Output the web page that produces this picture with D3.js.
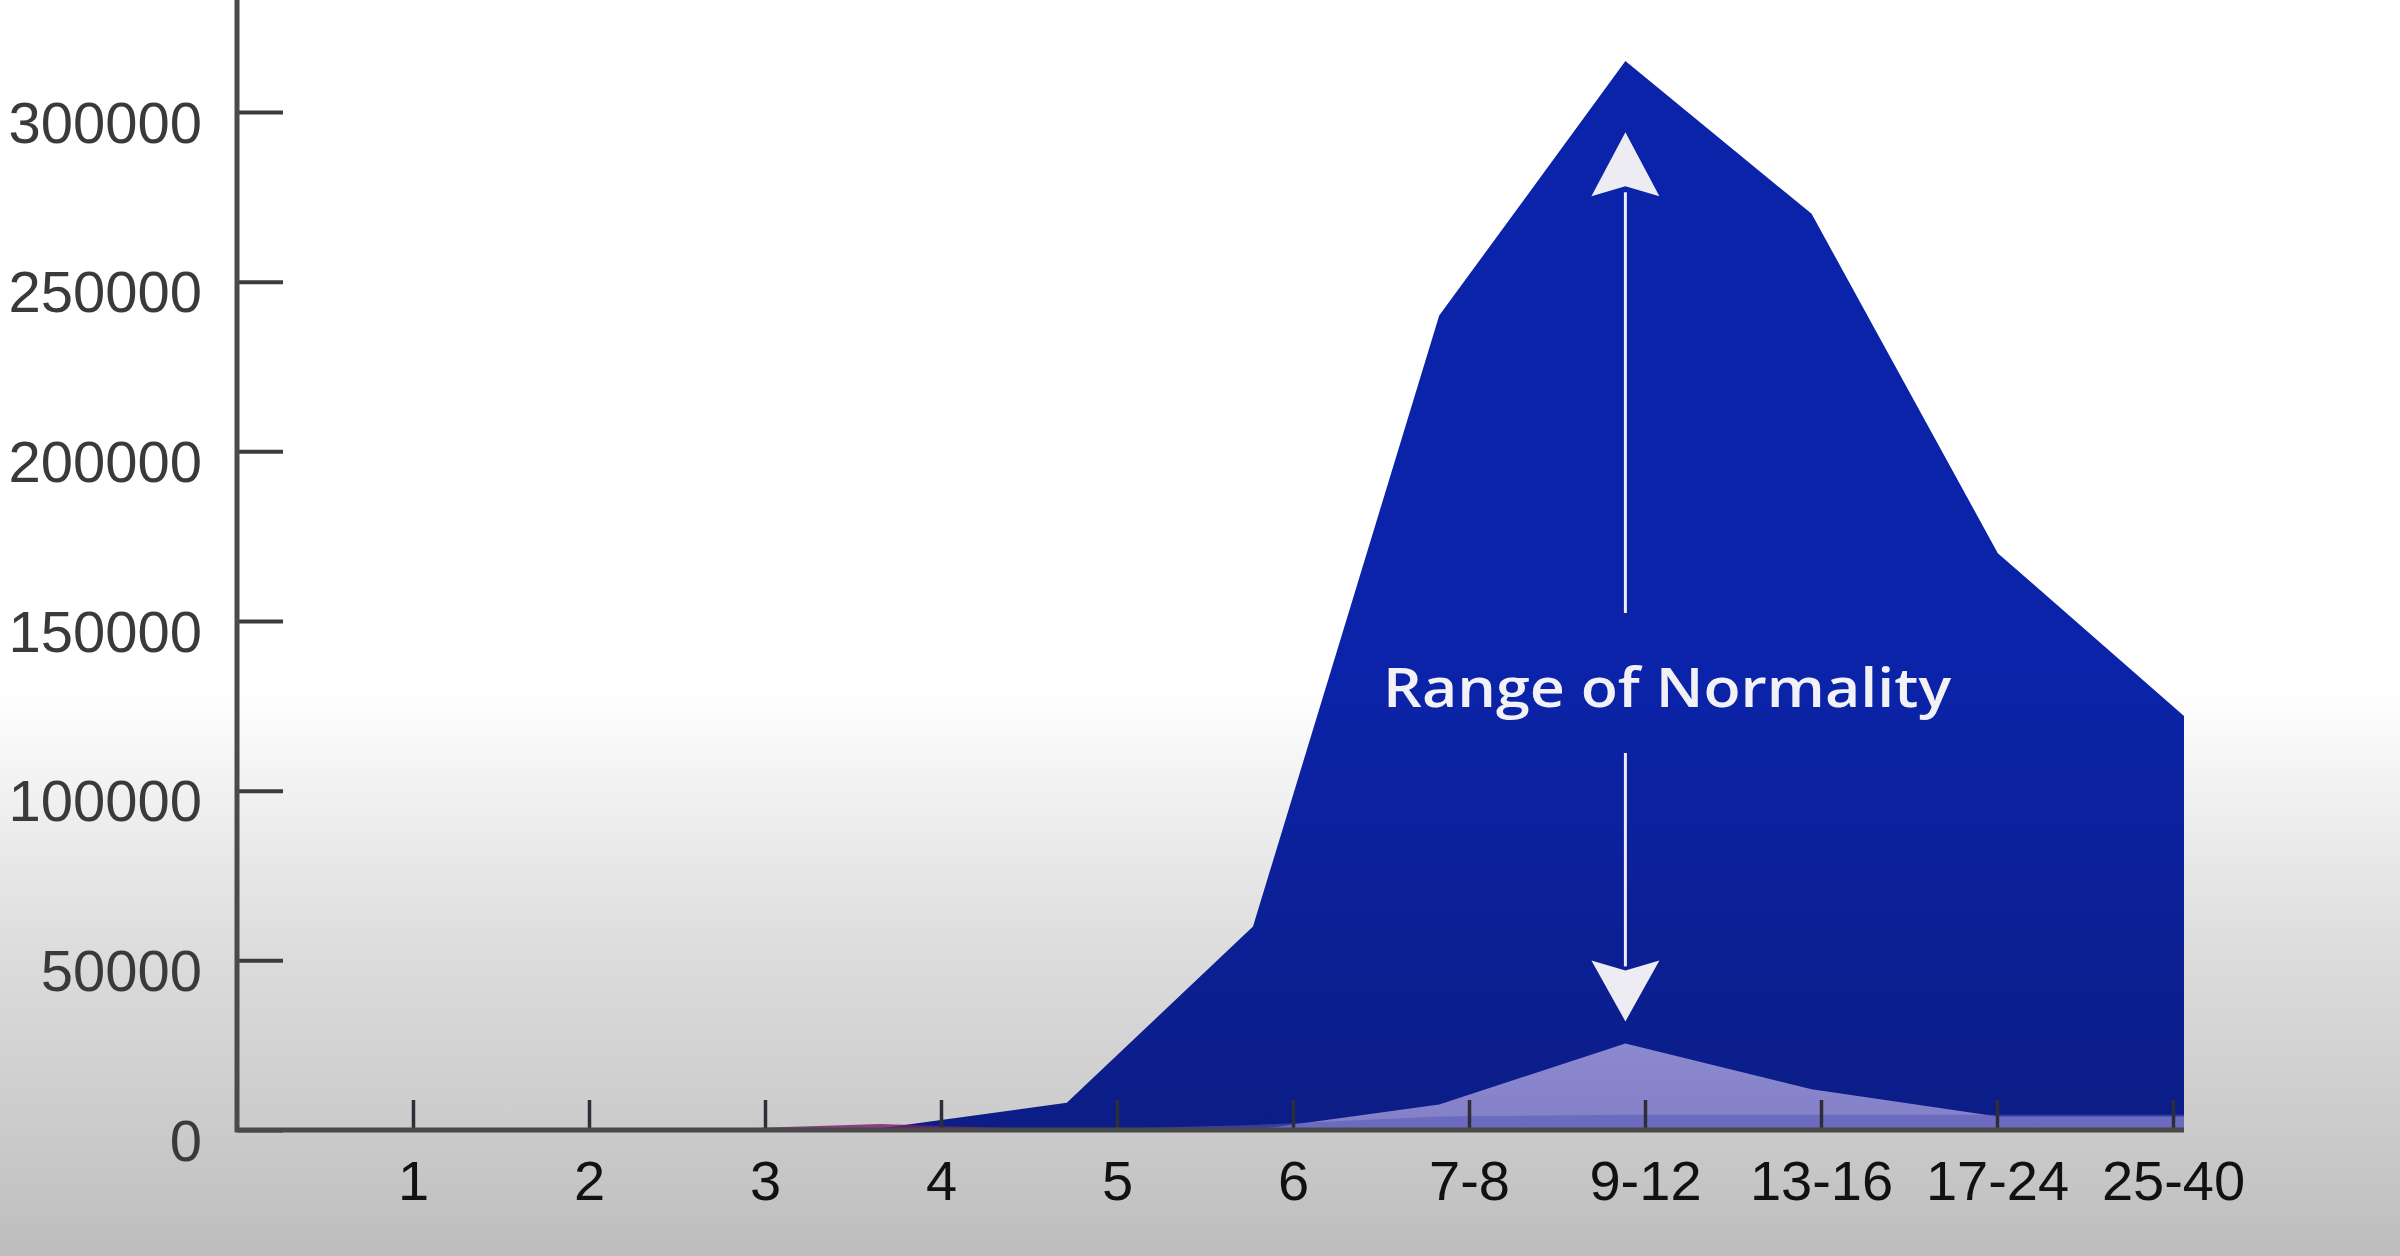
<!DOCTYPE html>
<html>
<head>
<meta charset="utf-8">
<script src="https://cdn.jsdelivr.net/npm/d3@7"></script>
<style>
  body { margin: 0; background: #fff; }
  svg { display: block; }
</style>
</head>
<body>
<div id="chart"></div>
<script>
// chart data
var categories = ["1", "2", "3", "4", "5", "6", "7-8", "9-12", "13-16", "17-24", "25-40"];
var upperValues = [0, 0, 0, 500, 8000, 60000, 240000, 315000, 270000, 170000, 122000];
var lowerValues = [0, 0, 0, 0, 0, 0, 7500, 25500, 12000, 4000, 4000];
var bandValues = [0, 0, 0, 0, 0, 1500, 4000, 4500, 4500, 4500, 4500];
var redValues = [0, 0, 0, 1800, 0, 0, 0, 0, 0, 0, 0];
var yTicks = [0, 50000, 100000, 150000, 200000, 250000, 300000];
var annotation = "Range of Normality";
var arrowTop = 294000;
var arrowBottom = 32000;

var w = 2400;
var h = 1256;
var left = 237;
var bottom = 1130;

var svg = d3.select("#chart")
    .append("svg")
    .attr("width", w)
    .attr("height", h);

var defs = svg.append("defs");

// grey fade at the bottom of the frame
var bg = defs.append("linearGradient")
    .attr("id", "bg")
    .attr("x1", 0).attr("y1", 0).attr("x2", 0).attr("y2", 1);
bg.append("stop").attr("offset", 0.55).attr("stop-color", "#ffffff");
bg.append("stop").attr("offset", 0.63).attr("stop-color", "#f1f1f1");
bg.append("stop").attr("offset", 0.76).attr("stop-color", "#dcdcdc");
bg.append("stop").attr("offset", 0.9).attr("stop-color", "#cbcbcb");
bg.append("stop").attr("offset", 1).attr("stop-color", "#bdbdbd");

var blue = defs.append("linearGradient")
    .attr("id", "blue")
    .attr("gradientUnits", "userSpaceOnUse")
    .attr("x1", 0).attr("y1", 0).attr("x2", 0).attr("y2", bottom);
blue.append("stop").attr("offset", 0.6).attr("stop-color", "#0b23a8");
blue.append("stop").attr("offset", 1).attr("stop-color", "#0c1d86");

var lilac = defs.append("linearGradient")
    .attr("id", "lilac")
    .attr("gradientUnits", "userSpaceOnUse")
    .attr("x1", 0).attr("y1", 1030).attr("x2", 0).attr("y2", bottom);
lilac.append("stop").attr("offset", 0).attr("stop-color", "#8d8ad2");
lilac.append("stop").attr("offset", 1).attr("stop-color", "#8480c8");

svg.append("rect")
    .attr("width", w)
    .attr("height", h)
    .attr("fill", "url(#bg)");

// scales
var yScale = d3.scaleLinear()
    .domain([0, 300000])
    .range([bottom, 112]);

var xScale = d3.scalePoint()
    .domain(categories)
    .range([413, 2173]);

// the filled shapes sit on their own, slightly wider grid
var xArea = d3.scaleLinear()
    .domain([0, categories.length - 1])
    .range([322, 2184]);

var area = d3.area()
    .x(function (d, i) { return xArea(i); })
    .y0(yScale(0))
    .y1(function (d) { return yScale(d); });

svg.append("path")
    .datum(upperValues)
    .attr("d", area)
    .attr("fill", "url(#blue)");

svg.append("path")
    .datum(lowerValues)
    .attr("d", area)
    .attr("fill", "url(#lilac)");

svg.append("path")
    .datum(bandValues)
    .attr("d", area)
    .attr("fill", "#5659b8")
    .attr("opacity", 0.55);

svg.append("path")
    .datum(redValues)
    .attr("d", area)
    .attr("fill", "#7a1b6e")
    .attr("opacity", 0.8);

// Y axis
var yAxis = d3.axisLeft(yScale)
    .tickValues(yTicks)
    .tickSizeInner(-46)
    .tickSizeOuter(0)
    .tickPadding(35)
    .tickFormat(d3.format("d"));

var gy = svg.append("g")
    .attr("transform", "translate(" + left + ",0)")
    .call(yAxis);
gy.select(".domain").remove();
gy.selectAll(".tick line")
    .attr("stroke", "#3c3c3c")
    .attr("stroke-width", 4);
gy.selectAll(".tick text")
    .attr("dy", "0.52em")
    .attr("fill", "#3a3a3a")
    .attr("font-family", "'Liberation Sans', Arial, sans-serif")
    .attr("font-size", "58px");

// X axis
var xAxis = d3.axisBottom(xScale)
    .tickSizeInner(-30)
    .tickSizeOuter(0)
    .tickPadding(30);

var gx = svg.append("g")
    .attr("transform", "translate(0," + bottom + ")")
    .call(xAxis);
gx.select(".domain").remove();
gx.selectAll(".tick line")
    .attr("stroke", "#2e2e3a")
    .attr("stroke-width", 3.5);
gx.selectAll(".tick text")
    .attr("fill", "#111")
    .attr("font-family", "'Liberation Sans', Arial, sans-serif")
    .attr("font-size", "56px");

// axis lines
svg.append("line")
    .attr("x1", left).attr("x2", left)
    .attr("y1", 0).attr("y2", bottom + 2)
    .attr("stroke", "#4a4a4a")
    .attr("stroke-width", 5);

svg.append("line")
    .attr("x1", left - 2).attr("x2", xArea(categories.length - 1))
    .attr("y1", bottom).attr("y2", bottom)
    .attr("stroke", "#4a4a4a")
    .attr("stroke-width", 5);

// annotation arrows at the peak
var ax = xArea(upperValues.indexOf(d3.max(upperValues)));
var textY = 707;
var arrowColor = "#ececf2";

var topTip = yScale(arrowTop);
var botTip = yScale(arrowBottom);

svg.append("line")
    .attr("x1", ax).attr("x2", ax)
    .attr("y1", topTip + 60).attr("y2", 613)
    .attr("stroke", arrowColor)
    .attr("stroke-width", 3);

svg.append("path")
    .attr("d", "M" + ax + "," + topTip +
        " L" + (ax + 34) + "," + (topTip + 64) +
        " L" + ax + "," + (topTip + 54) +
        " L" + (ax - 34) + "," + (topTip + 64) + " Z")
    .attr("fill", arrowColor);

svg.append("line")
    .attr("x1", ax).attr("x2", ax)
    .attr("y1", 753).attr("y2", botTip - 55)
    .attr("stroke", arrowColor)
    .attr("stroke-width", 3);

svg.append("path")
    .attr("d", "M" + ax + "," + botTip +
        " L" + (ax + 34) + "," + (botTip - 61) +
        " L" + ax + "," + (botTip - 51) +
        " L" + (ax - 34) + "," + (botTip - 61) + " Z")
    .attr("fill", arrowColor);

svg.append("text")
    .attr("x", 1383)
    .attr("y", textY)
    .attr("textLength", 568)
    .attr("lengthAdjust", "spacingAndGlyphs")
    .attr("fill", "#f2f2f6")
    .attr("font-family", "'Open Sans', sans-serif")
    .attr("font-weight", 600)
    .attr("font-size", "54px")
    .text(annotation);
</script>
</body>
</html>
